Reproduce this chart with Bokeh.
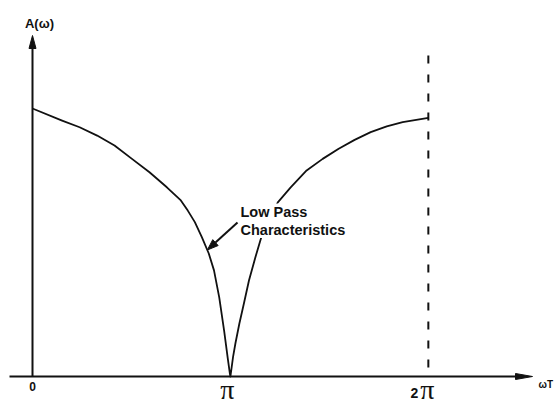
import numpy as np
from bokeh.plotting import figure
from bokeh.models import ColumnDataSource, Label
from bokeh.core.properties import value
from bokeh.embed import file_html
from bokeh.resources import INLINE

PI = np.pi

# Amplitude response A(w) against wT (radians): falls to zero at pi, rises again to 2*pi
wt = [0.0, 0.470, 0.748, 1.026, 1.302, 1.579, 1.857, 2.133, 2.355, 2.465, 2.577, 2.688,
      2.798, 2.881, 2.964, 3.042, 3.100, 3.133, PI,
      3.183, 3.222, 3.283, 3.360, 3.436, 3.538, 3.640, 3.767, 3.894, 4.098, 4.351,
      4.606, 4.860, 5.113, 5.368, 5.623, 5.876, 2 * PI]
amp = [1.000, 0.955, 0.930, 0.899, 0.862, 0.812, 0.762, 0.706, 0.657, 0.619, 0.576, 0.520,
       0.459, 0.396, 0.295, 0.170, 0.067, 0.011, 0.0,
       0.072, 0.125, 0.197, 0.277, 0.358, 0.445, 0.526, 0.593, 0.650, 0.706, 0.769,
       0.812, 0.850, 0.883, 0.912, 0.933, 0.949, 0.965]

tick_values = [0.0, PI, 2 * PI]
tick_labels = ["0", "π", "2π"]

period_end = 2 * PI                # dashed marker at the end of one period
note_wt, note_amp = 2.775, 0.472   # point on the curve the note points at

# screen layout: pixels per unit and pixel position of the origin
W, H = 557, 403
X0, SX = 32.0, 63.0
Y0, SY = 376.0, 268.0


def xd(px):
    return (px - X0) / SX


def yd(py):
    return (Y0 - py) / SY


def head(tip_px, back_dir, length, width):
    """Filled arrow head (data coords) from a tip in pixels and a unit direction toward its base."""
    tx, ty = tip_px
    ux, uy = back_dir
    bx, by = tx + ux * length, ty + uy * length
    nx, ny = -uy, ux
    pts = [(tx, ty), (bx + nx * width / 2, by + ny * width / 2), (bx - nx * width / 2, by - ny * width / 2)]
    return [xd(q[0]) for q in pts], [yd(q[1]) for q in pts]


p = figure(width=W, height=H, x_range=(xd(0), xd(W)), y_range=(yd(H), yd(0)),
           x_axis_type=None, y_axis_type=None, output_backend="svg",
           toolbar_location=None, min_border=0)
p.grid.visible = False
p.outline_line_color = None
p.background_fill_color = "white"
p.border_fill_color = "white"

ink = "#111111"

# axes with arrow heads
p.line([xd(9), xd(520)], [0, 0], line_color=ink, line_width=2)
hx, hy = head((532, Y0), (-1, 0), 17, 6)
p.patch(hx, hy, fill_color=ink, line_color=ink, line_width=1)

p.line([0, 0], [0, yd(45)], line_color=ink, line_width=2)
hx, hy = head((X0, 35), (0, 1), 13, 7)
p.patch(hx, hy, fill_color=ink, line_color=ink, line_width=1)

# dashed line at the period end
p.line([period_end, period_end], [yd(55), 0], line_color=ink, line_width=2, line_dash="8 11")

# response curve
src = ColumnDataSource(dict(x=wt, y=amp))
p.line("x", "y", source=src, line_color=ink, line_width=1.8, line_join="round")

# tick labels along the wT axis (anchored by their top edge)
coef = [t[:-1] if t.endswith("π") else t for t in tick_labels]
sym = ["π" if t.endswith("π") else "" for t in tick_labels]
p.text(x=tick_values, y=[0] * 3, text=coef, x_offset=[0, 0, -14], y_offset=[5, 0, 11],
       text_align="center", text_baseline="top", text_font=value("Liberation Sans"),
       text_font_style="bold", text_font_size=["12px", "12px", "14px"], text_color=ink)
p.text(x=tick_values, y=[0] * 3, text=sym, x_offset=[0, -3, -1], y_offset=[0, -3, -3],
       text_align="center", text_baseline="top", text_font=value("Liberation Serif"),
       text_font_size="28px", text_color=ink)

# axis titles
p.add_layout(Label(x=xd(39), y=yd(23), text="A(ω)", text_align="center", text_baseline="middle",
                   text_font="Liberation Sans", text_font_style="bold", text_font_size="13px",
                   text_color=ink))
p.add_layout(Label(x=xd(538), y=yd(384), text="ωT", text_align="left", text_baseline="middle",
                   text_font="Liberation Sans", text_font_style="bold", text_font_size="10px",
                   text_color=ink))

# note with arrow pointing at the falling branch
tip = (X0 + SX * note_wt, Y0 - SY * note_amp)
tail = (237.0, 222.0)
dx, dy = tail[0] - tip[0], tail[1] - tip[1]
n = (dx * dx + dy * dy) ** 0.5
u = (dx / n, dy / n)
hlen = 11
p.line([xd(tail[0]), xd(tip[0] + u[0] * hlen)], [yd(tail[1]), yd(tip[1] + u[1] * hlen)],
       line_color=ink, line_width=2)
hx, hy = head(tip, u, hlen, 8)
p.patch(hx, hy, fill_color=ink, line_color=ink, line_width=1)

p.add_layout(Label(x=xd(240), y=yd(203), text="Low Pass\nCharacteristics", text_align="left",
                   text_baseline="top", text_font="Liberation Sans", text_font_style="bold",
                   text_font_size="14.5px", text_line_height=1.15, text_color=ink,
                   background_fill_color="white"))

open("out.html", "w").write(file_html(p, INLINE))
